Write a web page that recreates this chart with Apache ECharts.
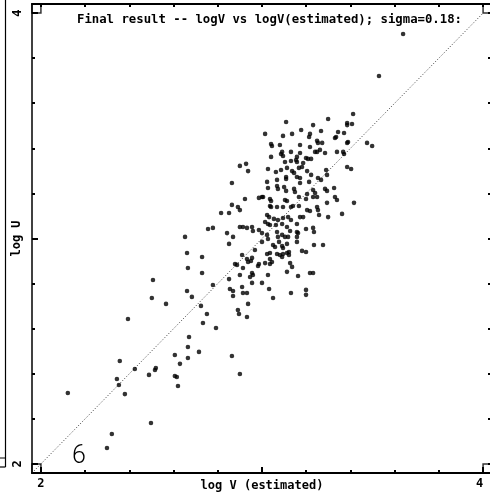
<!DOCTYPE html>
<html><head><meta charset="utf-8">
<script src="https://cdn.jsdelivr.net/npm/echarts@6/dist/echarts.min.js"></script>
<style>html,body{margin:0;padding:0;background:#fff}#c{width:490px;height:495px}</style>
</head><body><div id="c"></div>
<script>
const titleText = 'Final result -- logV vs logV(estimated); sigma=0.18:';
const xName = 'log V (estimated)';
const yName = 'log U';
const frameMin = 1.96, frameMax = 4.04;
const dataMin = 2, dataMax = 4;
const minorStep = 0.2, majorStep = 1;
const labelValues = [2, 4];
const diagonal = [1.96, 4.0];
const cornerX = [1.98, 1.98, 4.02, 4.02];
const cornerY = [1.98, 4.02, 1.98, 4.02];
const estX = [3.109,3.299,3.412,3.385,3.385,3.407,3.014,3.095,3.136,3.177,3.231,3.217,3.213,3.267,3.335,3.330,3.344,3.371,3.385,3.389,
3.475,3.498,3.041,3.045,3.081,3.172,3.217,3.249,3.253,3.272,3.262,3.240,3.249,3.285,3.339,3.367,3.371,3.091,3.086,3.131,
3.172,3.041,3.095,3.158,3.154,3.158,3.199,3.208,3.222,3.131,3.186,3.104,2.900,2.928,2.937,3.027,3.063,3.086,3.113,3.136,
3.145,3.167,3.181,3.204,3.222,3.158,3.172,3.213,3.253,3.267,3.290,3.294,3.385,3.403,2.864,3.023,3.068,3.109,3.109,3.027,
3.068,3.072,3.100,3.109,3.145,3.149,3.204,3.231,3.240,3.285,3.294,3.326,3.172,3.000,3.005,2.923,3.036,3.041,3.104,3.113,
3.167,3.199,3.231,3.249,2.986,3.330,3.339,3.294,3.416,2.864,2.891,2.900,3.036,3.041,3.068,3.095,3.131,3.140,3.167,3.204,
3.217,3.249,3.253,3.258,2.815,2.851,3.023,3.032,3.054,3.072,3.095,3.118,3.131,3.172,3.186,3.299,3.362,3.014,3.027,3.036,
3.063,3.091,3.113,3.158,3.127,2.756,2.778,2.900,2.914,2.932,2.955,2.959,2.842,2.869,2.986,3.000,3.023,3.027,3.068,3.072,
3.077,3.091,3.104,3.158,3.163,3.158,3.231,3.235,3.199,3.118,3.000,2.851,3.050,3.059,3.091,3.095,3.113,3.158,3.235,3.276,
2.968,3.023,3.036,3.068,3.081,3.095,3.113,3.122,3.122,3.181,3.199,2.910,2.729,3.091,3.036,3.045,3.014,3.127,2.955,2.950,
2.932,2.937,2.878,2.887,2.986,2.982,3.036,3.136,2.914,2.900,2.955,2.959,2.946,2.729,2.851,3.027,3.113,3.163,3.217,3.231,
2.778,2.955,3.000,2.855,2.869,2.910,2.914,2.932,3.032,3.131,3.199,3.199,3.050,2.507,2.502,2.394,2.566,2.661,2.683,2.724,
2.751,2.733,2.792,2.869,2.937,2.891,2.896,2.932,2.670,2.665,2.665,2.715,2.606,2.629,2.864,2.900,2.357,2.425,2.489,2.520,
2.516,2.606,2.615,2.620,2.344,2.353,2.380,2.122,2.498,2.321,2.299,3.638,3.529,2.652,2.661,2.665];
const obsY = [3.517,3.530,3.552,3.512,3.503,3.508,3.464,3.455,3.464,3.481,3.503,3.464,3.450,3.477,3.450,3.446,3.472,3.468,3.424,3.428,
3.424,3.410,3.419,3.410,3.415,3.415,3.406,3.433,3.424,3.424,3.393,3.384,3.384,3.379,3.384,3.384,3.375,3.384,3.375,3.384,
3.379,3.362,3.366,3.362,3.348,3.339,3.357,3.353,3.353,3.344,3.335,3.339,3.322,3.331,3.299,3.308,3.295,3.304,3.313,3.299,
3.291,3.313,3.317,3.299,3.282,3.273,3.268,3.251,3.268,3.260,3.304,3.282,3.317,3.308,3.246,3.251,3.260,3.273,3.264,3.224,
3.233,3.220,3.228,3.211,3.220,3.206,3.197,3.215,3.202,3.220,3.211,3.224,3.246,3.184,3.184,3.175,3.175,3.166,3.171,3.166,
3.184,3.175,3.184,3.184,3.180,3.184,3.171,3.158,3.158,3.149,3.140,3.126,3.144,3.140,3.140,3.140,3.140,3.144,3.144,3.126,
3.122,3.140,3.126,3.104,3.113,3.113,3.104,3.095,3.087,3.082,3.091,3.095,3.082,3.095,3.095,3.095,3.109,3.073,3.064,3.060,
3.060,3.064,3.051,3.064,3.033,3.042,3.047,3.051,3.051,3.047,3.051,3.033,3.024,3.007,3.038,3.024,3.016,2.998,3.029,3.007,
2.985,3.016,3.007,3.029,3.024,3.007,3.047,3.029,3.042,3.007,2.985,2.976,2.971,2.962,2.967,2.958,2.976,2.985,2.971,2.971,
2.949,2.931,2.936,2.931,2.927,2.931,2.936,2.940,2.927,2.945,2.940,2.927,2.918,2.918,2.909,2.896,2.891,2.891,2.914,2.900,
2.909,2.896,2.887,2.883,2.887,2.878,2.887,2.874,2.869,2.838,2.847,2.838,2.829,2.847,2.820,2.838,2.852,2.834,2.847,2.847,
2.794,2.803,2.803,2.776,2.767,2.785,2.758,2.758,2.776,2.758,2.772,2.750,2.736,2.816,2.736,2.643,2.710,2.767,2.741,2.701,
2.665,2.625,2.603,2.745,2.710,2.683,2.665,2.652,2.563,2.519,2.470,2.497,2.483,2.444,2.479,2.399,2.457,2.421,2.395,2.426,
2.417,2.390,2.386,2.346,2.377,2.350,2.310,2.315,2.182,2.133,2.071,3.907,3.721,3.007,2.936,2.869];

const FONT = 'DejaVu Sans Mono';
const chart = echarts.init(document.getElementById('c'), null, {renderer: 'canvas'});
const pts = estX.map((x, i) => [x, obsY[i]]);
const corners = cornerX.map((x, i) => [x, cornerY[i]]);
const lblStyle = {fontFamily: FONT, fontWeight: 'bold', fontSize: 12, color: '#000'};
const BLACK = '#000';

function frameAxis(grid, pos, width, extra) {
  return Object.assign({
    type: 'value', gridIndex: grid, position: pos, min: frameMin, max: frameMax,
    splitLine: {show: false},
    axisLine: {show: true, onZero: false, lineStyle: {color: BLACK, width: width}},
    axisTick: {show: false}, axisLabel: {show: false}
  }, extra || {});
}
function tickAxis(grid, pos, step, len) {
  return {
    type: 'value', gridIndex: grid, position: pos, min: dataMin, max: dataMax, interval: step,
    splitLine: {show: false},
    axisLine: {show: false, onZero: false},
    axisTick: {show: true, inside: true, length: len, lineStyle: {color: BLACK, width: 2}},
    axisLabel: {show: false}
  };
}
function hiddenAxis(grid) {
  return {type: 'value', gridIndex: grid, show: false, min: 0, max: 1};
}

chart.setOption({
  animation: false,
  backgroundColor: '#fff',
  title: {text: titleText, left: 77, top: 14, padding: 0,
    textStyle: {fontFamily: FONT, fontWeight: 'bold', fontSize: 12.3, color: BLACK}},
  grid: [
    {left: 32, top: 4, width: 460, height: 469, containLabel: false, outerBoundsMode: 'none'},
    {left: 41, top: 4, width: 442, height: 469, containLabel: false, outerBoundsMode: 'none'},
    {left: 32, top: 13, width: 460, height: 451, containLabel: false, outerBoundsMode: 'none'}
  ],
  xAxis: [
    frameAxis(0, 'bottom', 2, {
      axisLabel: Object.assign({show: true, customValues: labelValues, margin: 5, alignMaxLabel: 'right',
        formatter: v => String(Math.round(v))}, lblStyle),
      name: xName, nameLocation: 'middle', nameGap: 7, nameMoveOverlap: false,
      nameTextStyle: Object.assign({}, lblStyle, {verticalAlign: 'top'})}),
    frameAxis(0, 'top', 2),
    tickAxis(1, 'bottom', minorStep, 3),
    tickAxis(1, 'bottom', majorStep, 6),
    tickAxis(1, 'top', minorStep, 3),
    hiddenAxis(2)
  ],
  yAxis: [
    frameAxis(0, 'left', 1.5, {
      axisLabel: Object.assign({show: true, customValues: labelValues, margin: 8, rotate: 90,
        formatter: v => String(Math.round(v))}, lblStyle),
      name: yName, nameLocation: 'middle', nameGap: 9, nameRotate: 90, nameMoveOverlap: false,
      nameTextStyle: lblStyle}),
    frameAxis(0, 'right', 1.5),
    hiddenAxis(1),
    tickAxis(2, 'left', minorStep, 3),
    tickAxis(2, 'left', majorStep, 6),
    tickAxis(2, 'right', minorStep, 4)
  ],
  series: [
    {type: 'line', xAxisIndex: 0, yAxisIndex: 0, data: diagonal.map(v => [v, v]), symbol: 'none', silent: true,
      lineStyle: {color: '#333', width: 1, type: [1, 2]}, z: 1},
    {type: 'scatter', xAxisIndex: 0, yAxisIndex: 0, data: pts, symbol: 'circle', symbolSize: 4.6, silent: true,
      itemStyle: {color: BLACK}, z: 3},
    {type: 'scatter', xAxisIndex: 0, yAxisIndex: 0, data: corners, symbol: 'rect', symbolSize: 9, silent: true,
      clip: false,
      itemStyle: {color: 'rgba(0,0,0,0)', borderColor: BLACK, borderWidth: 1.5}, z: 4}
  ],
  graphic: [
    {type: 'text', left: 72, top: 444, style: {text: '6', font: '300 25px Roboto', fill: BLACK}},
    {type: 'line', shape: {x1: 5.5, y1: 0, x2: 5.5, y2: 467}, style: {stroke: BLACK, lineWidth: 1.2}},
    {type: 'line', shape: {x1: 0, y1: 467, x2: 5.5, y2: 467}, style: {stroke: BLACK, lineWidth: 1.2}},
    {type: 'line', shape: {x1: 0, y1: 458, x2: 5.5, y2: 458}, style: {stroke: BLACK, lineWidth: 1}}
  ]
});
</script></body></html>
